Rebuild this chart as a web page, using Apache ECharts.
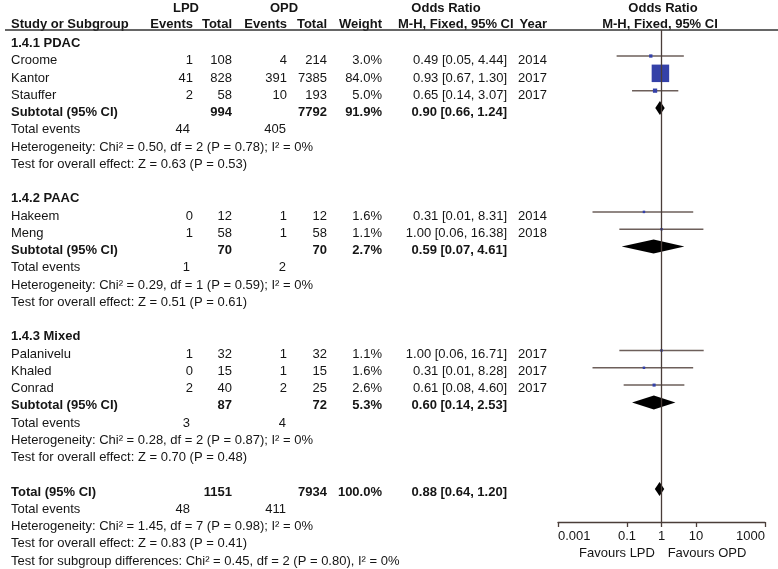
<!DOCTYPE html>
<html>
<head>
<meta charset="utf-8">
<script src="https://cdn.jsdelivr.net/npm/echarts@6/dist/echarts.min.js"></script>
<style>
  html, body { margin: 0; padding: 0; background: #fff; }
  #forest { width: 778px; height: 569px; }
</style>
</head>
<body>
<div id="forest"></div>
<script>
// study level data
var studies   = ['Croome', 'Kantor', 'Stauffer', 'Hakeem', 'Meng', 'Palanivelu', 'Khaled', 'Conrad'];
var studyGrp  = [0, 0, 0, 1, 1, 2, 2, 2];
var lpdEvents = [1, 41, 2, 0, 1, 1, 0, 2];
var lpdTotal  = [108, 828, 58, 12, 58, 32, 15, 40];
var opdEvents = [4, 391, 10, 1, 1, 1, 1, 2];
var opdTotal  = [214, 7385, 193, 12, 58, 32, 15, 25];
var weights   = [3.0, 84.0, 5.0, 1.6, 1.1, 1.1, 1.6, 2.6];
var orEst     = [0.49, 0.93, 0.65, 0.31, 1.00, 1.00, 0.31, 0.61];
var orLo      = [0.05, 0.67, 0.14, 0.01, 0.06, 0.06, 0.01, 0.08];
var orHi      = [4.44, 1.30, 3.07, 8.31, 16.38, 16.71, 8.28, 4.60];
var years     = [2014, 2017, 2017, 2014, 2018, 2017, 2017, 2017];

// subgroup data
var groupNames     = ['1.4.1 PDAC', '1.4.2 PAAC', '1.4.3 Mixed'];
var groupLpdTotal  = [994, 70, 87];
var groupOpdTotal  = [7792, 70, 72];
var groupWeight    = [91.9, 2.7, 5.3];
var groupEst       = [0.90, 0.59, 0.60];
var groupLo        = [0.66, 0.07, 0.14];
var groupHi        = [1.24, 4.61, 2.53];
var groupLpdEvents = [44, 1, 3];
var groupOpdEvents = [405, 2, 4];
var groupChi       = [0.50, 0.29, 0.28];
var groupDf        = [2, 1, 2];
var groupHetP      = [0.78, 0.59, 0.87];
var groupI2        = [0, 0, 0];
var groupZ         = [0.63, 0.51, 0.70];
var groupZP        = [0.53, 0.61, 0.48];

// overall
var totalLpd = 1151, totalOpd = 7934, totalWeight = 100.0;
var totalEst = 0.88, totalLo = 0.64, totalHi = 1.20;
var totalLpdEvents = 48, totalOpdEvents = 411;
var totalChi = 1.45, totalDf = 7, totalHetP = 0.98, totalI2 = 0;
var totalZ = 0.83, totalZP = 0.41;
var subChi = 0.45, subDf = 2, subP = 0.80, subI2 = 0;

var axisTicks = [0.001, 0.1, 1, 10, 1000];

// layout
var FONT = '13px "Liberation Sans", Arial, sans-serif';
var BOLD = 'bold 13px "Liberation Sans", Arial, sans-serif';
var INK = '#151515';
var col = { name: 11, lpdE: 193, lpdT: 232, opdE: 287, opdT: 327, w: 382, or: 507, year: 518, teL: 190, teO: 286 };

function orText(e, l, h) { return e.toFixed(2) + ' [' + l.toFixed(2) + ', ' + h.toFixed(2) + ']'; }
function hetText(chi, df, p, i2, sep) {
  return 'Heterogeneity: Chi\u00b2 = ' + chi.toFixed(2) + ', df = ' + df + ' (P = ' + p.toFixed(2) + ')' + sep + ' I\u00b2 = ' + i2 + '%';
}
function zText(z, p) { return 'Test for overall effect: Z = ' + z.toFixed(2) + ' (P = ' + p.toFixed(2) + ')'; }

var cells = [];
function cell(x, r, text, align, bold) { cells.push({ x: x, r: r, text: String(text), align: align, bold: !!bold }); }

var studyRow = [], groupRow = [];
var r = 0;
groupNames.forEach(function (g, gi) {
  cell(col.name, r, g, 'left', true); r++;
  studies.forEach(function (s, i) {
    if (studyGrp[i] !== gi) return;
    cell(col.name, r, s, 'left');
    cell(col.lpdE, r, lpdEvents[i], 'right');
    cell(col.lpdT, r, lpdTotal[i], 'right');
    cell(col.opdE, r, opdEvents[i], 'right');
    cell(col.opdT, r, opdTotal[i], 'right');
    cell(col.w, r, weights[i].toFixed(1) + '%', 'right');
    cell(col.or, r, orText(orEst[i], orLo[i], orHi[i]), 'right');
    cell(col.year, r, years[i], 'left');
    studyRow[i] = r; r++;
  });
  cell(col.name, r, 'Subtotal (95% CI)', 'left', true);
  cell(col.lpdT, r, groupLpdTotal[gi], 'right', true);
  cell(col.opdT, r, groupOpdTotal[gi], 'right', true);
  cell(col.w, r, groupWeight[gi].toFixed(1) + '%', 'right', true);
  cell(col.or, r, orText(groupEst[gi], groupLo[gi], groupHi[gi]), 'right', true);
  groupRow[gi] = r; r++;
  cell(col.name, r, 'Total events', 'left');
  cell(col.teL, r, groupLpdEvents[gi], 'right');
  cell(col.teO, r, groupOpdEvents[gi], 'right'); r++;
  cell(col.name, r, hetText(groupChi[gi], groupDf[gi], groupHetP[gi], groupI2[gi], ';'), 'left'); r++;
  cell(col.name, r, zText(groupZ[gi], groupZP[gi]), 'left'); r++;
  r++;
});
var totalRow = r;
cell(col.name, r, 'Total (95% CI)', 'left', true);
cell(col.lpdT, r, totalLpd, 'right', true);
cell(col.opdT, r, totalOpd, 'right', true);
cell(col.w, r, totalWeight.toFixed(1) + '%', 'right', true);
cell(col.or, r, orText(totalEst, totalLo, totalHi), 'right', true); r++;
cell(col.name, r, 'Total events', 'left');
cell(col.teL, r, totalLpdEvents, 'right');
cell(col.teO, r, totalOpdEvents, 'right'); r++;
cell(col.name, r, hetText(totalChi, totalDf, totalHetP, totalI2, ';'), 'left'); r++;
cell(col.name, r, zText(totalZ, totalZP), 'left'); r++;
cell(col.name, r, 'Test for subgroup differences: Chi\u00b2 = ' + subChi.toFixed(2) + ', df = ' + subDf +
  ' (P = ' + subP.toFixed(2) + '), I\u00b2 = ' + subI2 + '%', 'left');

var ciData = studies.map(function (s, i) { return [orLo[i], orHi[i], orEst[i], studyRow[i]]; });
var sqData = studies.map(function (s, i) { return [orEst[i], studyRow[i], weights[i]]; });
var dmData = groupNames.map(function (g, gi) { return [groupLo[gi], groupEst[gi], groupHi[gi], groupRow[gi]]; });
dmData.push([totalLo, totalEst, totalHi, totalRow]);

var LINE = '#4a3d39';
var chart = echarts.init(document.getElementById('forest'));

function hdr(x, y, text, align, bold) {
  return { type: 'text', x: x, y: y, silent: true,
    style: { text: text, font: bold === false ? FONT : BOLD, fill: INK,
      align: align, verticalAlign: 'middle', textAlign: align, textVerticalAlign: 'middle' } };
}

var option = {
  animation: false,
  backgroundColor: '#fff',
  grid: [
    { left: 0, top: 0, width: 778, height: 569 },
    { left: 558, top: 30, width: 207, height: 492 }
  ],
  xAxis: [
    { gridIndex: 0, type: 'value', min: 0, max: 778, show: false },
    { gridIndex: 1, type: 'log', logBase: 10, min: 0.001, max: 1000, position: 'bottom',
      axisLine: { show: true, onZero: false, lineStyle: { color: LINE, width: 1.3 } },
      axisTick: { show: true, customValues: axisTicks, length: 5, lineStyle: { color: LINE, width: 1.3 } },
      axisLabel: { customValues: axisTicks, margin: 8, color: INK, fontSize: 13,
        alignMinLabel: 'left', alignMaxLabel: 'right',
        fontFamily: '"Liberation Sans", Arial, sans-serif', formatter: function (v) { return String(v); } },
      splitLine: { show: false }, minorTick: { show: false } }
  ],
  yAxis: [
    { gridIndex: 0, type: 'value', inverse: true, min: -43.5 / 17.25, max: (569 - 43.5) / 17.25, show: false },
    { gridIndex: 1, type: 'value', inverse: true, min: -0.502, max: 27.904, show: false }
  ],
  graphic: [
    hdr(186, 8, 'LPD', 'center'),
    hdr(284, 8, 'OPD', 'center'),
    hdr(446, 8, 'Odds Ratio', 'center'),
    hdr(663, 8, 'Odds Ratio', 'center'),
    hdr(11, 24, 'Study or Subgroup', 'left'),
    hdr(193, 24, 'Events', 'right'),
    hdr(232, 24, 'Total', 'right'),
    hdr(287, 24, 'Events', 'right'),
    hdr(327, 24, 'Total', 'right'),
    hdr(382, 24, 'Weight', 'right'),
    hdr(398, 24, 'M-H, Fixed, 95% CI', 'left'),
    hdr(547, 24, 'Year', 'right'),
    hdr(660, 24, 'M-H, Fixed, 95% CI', 'center'),
    { type: 'line', silent: true, shape: { x1: 5, y1: 30, x2: 778, y2: 30 },
      style: { stroke: '#333', lineWidth: 1.5 } },
    hdr(617, 553, 'Favours LPD', 'center', false),
    hdr(707, 553, 'Favours OPD', 'center', false)
  ],
  series: [
    {
      type: 'custom', xAxisIndex: 0, yAxisIndex: 0, silent: true, clip: false,
      data: cells.map(function (c) { return [c.x, c.r]; }),
      renderItem: function (params, api) {
        var c = cells[params.dataIndex];
        var p = api.coord([c.x, c.r]);
        return { type: 'text', x: p[0], y: p[1],
          style: { text: c.text, font: c.bold ? BOLD : FONT, fill: INK,
            align: c.align, verticalAlign: 'middle', textAlign: c.align, textVerticalAlign: 'middle' } };
      }
    },
    {
      type: 'custom', xAxisIndex: 1, yAxisIndex: 1, silent: true,
      data: ciData,
      encode: { x: [0, 1], y: 3 },
      renderItem: function (params, api) {
        var a = api.coord([api.value(0), api.value(3)]);
        var b = api.coord([api.value(1), api.value(3)]);
        return { type: 'line', shape: { x1: a[0], y1: a[1], x2: b[0], y2: b[1] },
          style: { stroke: '#6d5f5a', lineWidth: 1.5 } };
      }
    },
    {
      type: 'scatter', xAxisIndex: 1, yAxisIndex: 1, silent: true,
      symbol: 'rect',
      symbolSize: function (v) { return Math.max(2.5, 17.5 * Math.sqrt(v[2] / 84)); },
      itemStyle: { color: '#3441a8', opacity: 1 },
      data: sqData,
      markLine: {
        silent: true, symbol: ['none', 'none'], label: { show: false },
        lineStyle: { color: LINE, type: 'solid', width: 1.3 },
        data: [{ xAxis: 1 }]
      }
    },
    {
      type: 'custom', xAxisIndex: 1, yAxisIndex: 1, silent: true,
      data: dmData,
      encode: { x: [0, 1, 2], y: 3 },
      renderItem: function (params, api) {
        var y = api.value(3);
        var l = api.coord([api.value(0), y]);
        var m = api.coord([api.value(1), y]);
        var h = api.coord([api.value(2), y]);
        return { type: 'polygon',
          shape: { points: [[l[0], l[1]], [m[0], m[1] - 7], [h[0], h[1]], [m[0], m[1] + 7]] },
          style: { fill: '#000' } };
      }
    }
  ]
};
chart.setOption(option);
</script>
</body>
</html>
